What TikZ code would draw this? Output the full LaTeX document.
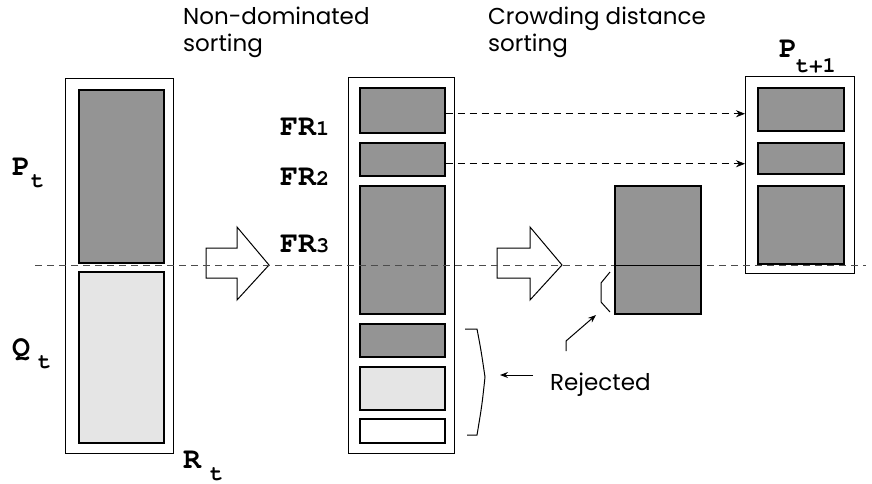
\documentclass[tikz,border=0pt]{standalone}
\usepackage{fontspec}
\setmainfont{Poppins}
\newfontfamily\cour{texgyrecursor-bold.otf}
\usetikzlibrary{arrows.meta}
\tikzset{
  outerbox/.style={draw, line width=0.9pt, inner sep=0pt, anchor=north west},
  darkbox/.style={draw, line width=1.5pt, fill=black!42, inner sep=0pt, anchor=north west},
  lightbox/.style={draw, line width=1.5pt, fill=black!10, inner sep=0pt, anchor=north west},
  whitebox/.style={draw, line width=1.5pt, fill=white, inner sep=0pt, anchor=north west},
  blockarrow/.style={draw, line width=1pt, fill=white, line join=miter},
  biglabel/.style={inner sep=0pt, anchor=base west, font=\cour\fontsize{30}{30}\selectfont},
  sublabel/.style={inner sep=0pt, anchor=base west, font=\cour\fontsize{22}{22}\selectfont},
  hand/.style={inner sep=0pt, anchor=north west, align=left, font=\fontsize{23}{27}\selectfont},
  dashline/.style={dashed, dash pattern=on 7pt off 5pt, line width=0.7pt},
  thin/.style={line width=1pt}
}
\begin{document}
\begin{tikzpicture}[x=1pt, y=-1pt]
\useasboundingbox (0,0) rectangle (872,483);
% left column R_t
\node[outerbox, minimum width=108pt, minimum height=375pt] (R) at (65,78) {};
\node[darkbox, minimum width=85pt, minimum height=173pt] (P) at (78,89) {};
\node[lightbox, minimum width=85pt, minimum height=171pt] (Q) at (78,271) {};
% middle column
\node[outerbox, minimum width=106pt, minimum height=376pt] (M) at (348,77) {};
\node[darkbox, minimum width=85pt, minimum height=45pt] (m1) at (359,87) {};
\node[darkbox, minimum width=85pt, minimum height=33pt] (m2) at (359,142) {};
\node[darkbox, minimum width=85pt, minimum height=128pt] (m3) at (359,185) {};
\node[darkbox, minimum width=85pt, minimum height=33pt] (m4) at (359,323) {};
\node[lightbox, minimum width=85pt, minimum height=43pt] (m5) at (359,366) {};
\node[whitebox, minimum width=85pt, minimum height=24pt] (m6) at (359,418) {};
% crowding sorted front
\node[darkbox, minimum width=86pt, minimum height=128pt] (c) at (614,185) {};
% right column P_{t+1}
\node[outerbox, minimum width=109pt, minimum height=197pt] (N) at (745,76) {};
\node[darkbox, minimum width=86pt, minimum height=43pt] (r1) at (757,87) {};
\node[darkbox, minimum width=86pt, minimum height=31pt] (r2) at (757,142) {};
\node[darkbox, minimum width=86pt, minimum height=78pt] (r3) at (757,185) {};
% big hollow arrows
\draw[blockarrow] (206,248) -- (237,248) -- (237,227) -- (269,265) -- (237,300) -- (237,278) -- (206,278) -- cycle;
\draw[blockarrow] (497,248) -- (530,248) -- (530,227) -- (562,265) -- (530,300) -- (530,278) -- (497,278) -- cycle;
% main dashed line
\coordinate (dl) at (35,265);
\coordinate (dr) at (866,265);
\draw[dashline, black!70] (dl) -- (dr);
\draw[line width=1pt] (c.west |- dl) -- (c.east |- dl);
% dashed arrows into P_{t+1}
\draw[dashline, -{Stealth[length=9pt,width=7pt]}] ([yshift=-3.5pt]m1.east) -- ([yshift=-3.5pt]m1.east -| N.west);
\draw[dashline, -{Stealth[length=9pt,width=7pt]}] ([yshift=-4.5pt]m2.east) -- ([yshift=-4.5pt]m2.east -| N.west);
% labels
\node[biglabel] (lP) at (12,175) {P};
\node[sublabel] (lPt) at (31,187) {t};
\node[biglabel] (lQ) at (12,356) {Q};
\node[sublabel] (lQt) at (38,368) {t};
\node[biglabel] (lR) at (183,468) {R};
\node[sublabel] (lRt) at (210,480) {t};
\node[biglabel] (f1) at (280,135) {FR\fontsize{22}{22}\selectfont 1};
\node[biglabel] (f2) at (280,185) {FR\fontsize{22}{22}\selectfont 2};
\node[biglabel] (f3) at (280,252) {FR\fontsize{22}{22}\selectfont 3};
\node[biglabel] (lPn) at (779,57) {P};
\node[sublabel] (lPn1) at (796,72) {t+1};
% handwritten captions
\node[hand] (cap1) at (183,7) {Non-dominated\\sorting};
\node[hand] (cap2) at (488,7) {Crowding distance\\sorting};
\node[hand, anchor=base west] (rej) at (550,390) {Rejected};
% brace beside rejected fronts
\coordinate (b1) at (465,329);
\coordinate (b2) at (477,329);
\coordinate (b3) at (485,377);
\coordinate (b4) at (477,435);
\coordinate (b5) at (467,435);
\draw[thin] (b1) -- (b2) .. controls (481,350) .. (b3) .. controls (482,405) .. (b4) -- (b5);
\coordinate (ra0) at (533,375);
\coordinate (ra) at (500,375);
\draw[thin, -{Stealth[length=8pt,width=6pt]}] (ra0) -- (ra);
% small bracket on crowding block
\coordinate (s1) at (610,272);
\coordinate (s2) at (601,283);
\coordinate (s3) at (601,302);
\coordinate (s4) at (610,312);
\draw[thin] (s1) -- (s2) -- (s3) -- (s4);
\coordinate (q0) at (566,351);
\coordinate (q1) at (566,341);
\coordinate (q2) at (596,315);
\draw[thin, -{Stealth[length=8pt,width=6pt]}] (q0) -- (q1) -- (q2);
\end{tikzpicture}
\end{document}
